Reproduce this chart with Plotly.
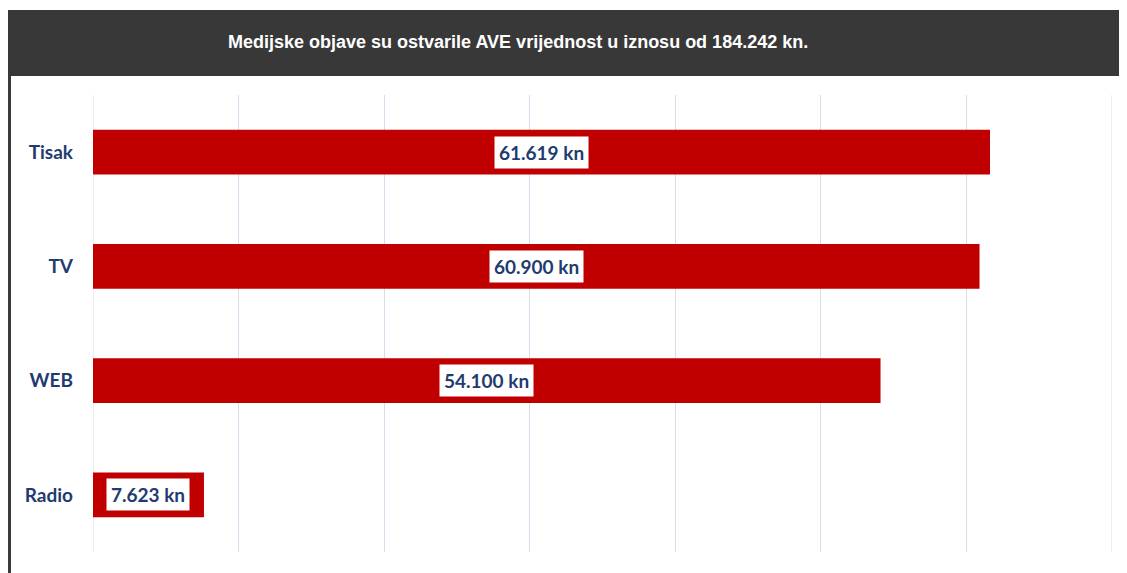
import plotly.graph_objects as go

categories = ["Tisak", "TV", "WEB", "Radio"]
values = [61619, 60900, 54100, 7623]
value_labels = ["61.619 kn", "60.900 kn", "54.100 kn", "7.623 kn"]
title_text = "Medijske objave su ostvarile AVE vrijednost u iznosu od 184.242 kn."
x_range = [0, 70000]

OFF = 8  # page body margin
W, H = 1127 - OFF, 573 - OFF
L, R, T, B = 93 - OFF, 15, 95 - OFF, 21
pw, ph = W - L - R, H - T - B

def px_x(x):
    return (x - OFF - L) / pw

def px_y(y):
    return 1 - (y - OFF - T) / ph

fig = go.Figure()
fig.add_trace(go.Bar(
    y=categories, x=values, orientation="h",
    marker=dict(color="#C00000", line=dict(width=0)),
    width=0.39, hoverinfo="skip",
))

for c, v, lab in zip(categories, values, value_labels):
    fig.add_annotation(
        x=v / 2, y=c, xref="x", yref="y", text="<b>" + lab + "</b>",
        showarrow=False, bgcolor="white", borderpad=4,
        font=dict(family="Lato, Open Sans, sans-serif", size=19, color="#1F3B6F"),
    )

# edge gridlines (plotly omits them at the range ends)
for xv in x_range:
    fig.add_shape(type="line", xref="x", yref="paper", x0=xv, x1=xv, y0=0, y1=1,
                  line=dict(color="#D9DCEB", width=1), layer="below")

# header band
fig.add_shape(type="rect", xref="paper", yref="paper",
              x0=px_x(0), x1=px_x(1130), y0=px_y(76), y1=px_y(10),
              fillcolor="#383838", line=dict(width=0), layer="above")
# left border
fig.add_shape(type="line", xref="paper", yref="paper",
              x0=px_x(9.5), x1=px_x(9.5), y0=px_y(76), y1=px_y(580),
              line=dict(color="#3a3a3a", width=3))
fig.add_annotation(
    xref="paper", yref="paper", x=px_x(518), y=px_y(42),
    xanchor="center", yanchor="middle",
    text="<b>" + title_text + "</b>", showarrow=False,
    font=dict(family="Liberation Sans, Arial, sans-serif", size=18, color="white"),
)

fig.update_layout(
    width=W, height=H,
    margin=dict(l=L, r=R, t=T, b=B),
    paper_bgcolor="white", plot_bgcolor="white",
    showlegend=False,
    xaxis=dict(range=x_range, dtick=10000, showgrid=True, gridcolor="#D9DCEB",
               gridwidth=1, showticklabels=False, zeroline=False, showline=False,
               fixedrange=True),
    yaxis=dict(autorange=False, range=[3.5, -0.5], showgrid=False, zeroline=False,
               showline=False, ticks="", ticklabelstandoff=19,
               tickfont=dict(family="Lato, Open Sans, sans-serif", size=19, color="#1F3B6F", weight="bold"),
               fixedrange=True),
)

fig.write_html("out.html")
